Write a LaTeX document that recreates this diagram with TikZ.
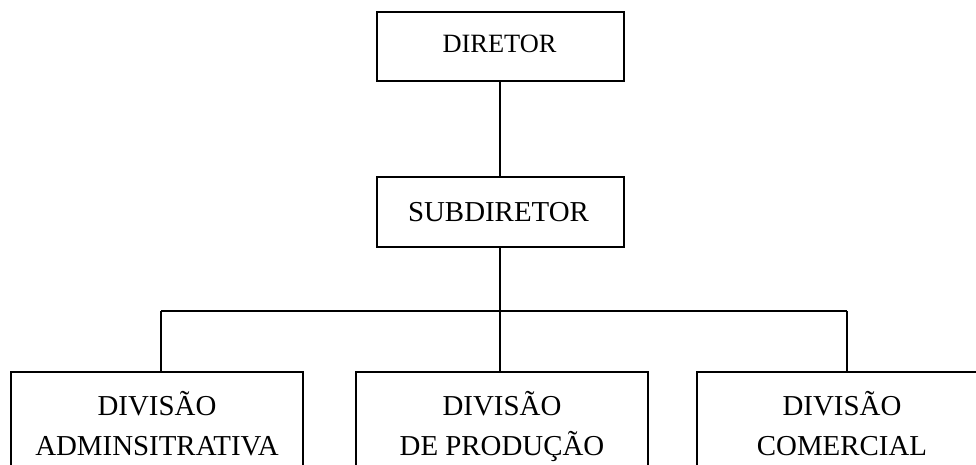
\documentclass[tikz,border=0pt]{standalone}
\usepackage{fontspec}
\setmainfont{Liberation Serif}
\begin{document}
\begin{tikzpicture}[x=1bp,y=-1bp,
  box/.style={draw,line width=2bp,minimum width=#1,inner sep=0pt},
  wire/.style={line width=2bp},
  txt/.style={anchor=base,inner sep=0pt,font=\fontsize{29}{34}\selectfont}]
\useasboundingbox (0,0) rectangle (976,465);
% boxes
\node[box=247bp,minimum height=69bp] (dir) at (500.5,46.5) {};
\node[box=247bp,minimum height=70bp] (sub) at (500.5,212) {};
\node[box=292bp,minimum height=140bp] (left) at (157,442) {};
\node[box=292bp,minimum height=140bp] (mid) at (502,442) {};
\node[box=290bp,minimum height=140bp] (right) at (842,442) {};
% texts
\node[txt,font=\fontsize{26.5}{30}\selectfont] (tdir) at (499.5,53) {DIRETOR};
\node[txt] (tsub) at (498.5,222) {SUBDIRETOR};
\node[txt] (tl1) at (157,415) {DIVISÃO};
\node[txt] (tl2) at (157,455) {ADMINSITRATIVA};
\node[txt] (tm1) at (502,415) {DIVISÃO};
\node[txt] (tm2) at (502,455) {DE PRODUÇÃO};
\node[txt] (tr1) at (842,415) {DIVISÃO};
\node[txt] (tr2) at (842,455) {COMERCIAL};
% bus coordinates
\coordinate (busL) at (161,311);
\coordinate (busM) at (500,311);
\coordinate (busR) at (847,311);
% connectors
\draw[wire] (busM |- dir.south) -- (busM |- sub.north);
\draw[wire] (busM |- sub.south) -- (busM);
\draw[wire] (busL) -- (busR);
\draw[wire] (busL) -- (busL |- left.north);
\draw[wire] (busM) -- (busM |- mid.north);
\draw[wire] (busR) -- (busR |- right.north);
\end{tikzpicture}
\end{document}
